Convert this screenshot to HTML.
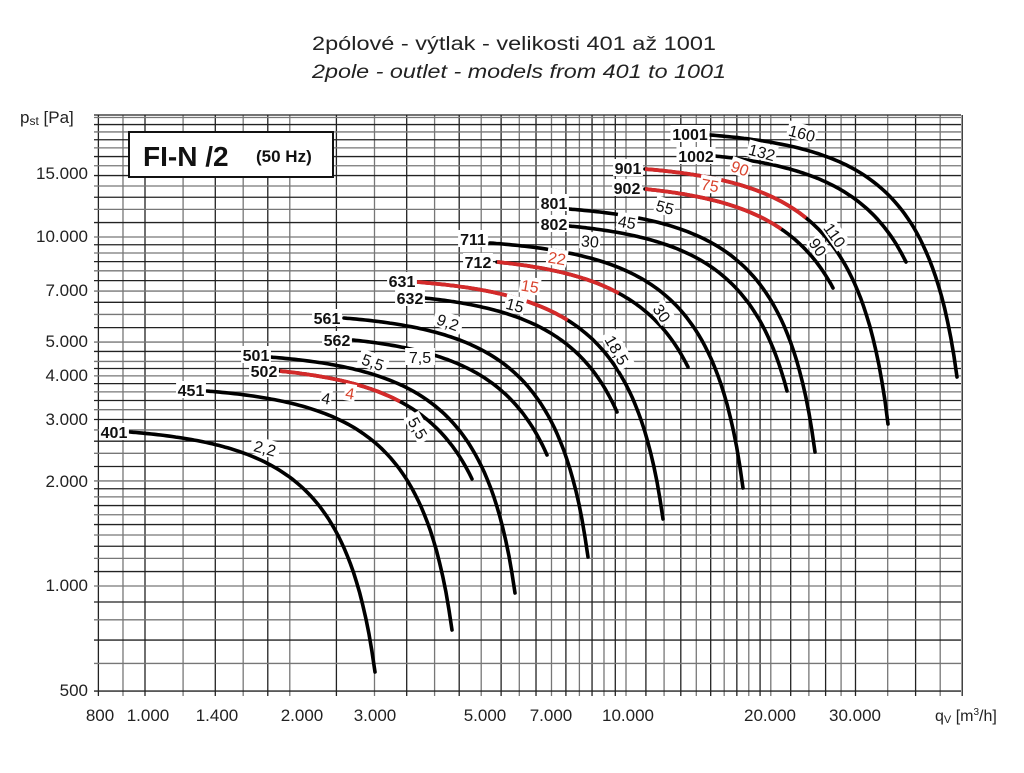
<!DOCTYPE html>
<html><head><meta charset="utf-8"><style>
html,body{margin:0;padding:0;background:#fff;}
body{width:1024px;height:768px;overflow:hidden;position:relative;font-family:"Liberation Sans",Arial,sans-serif;}
</style></head><body>
<svg id="s" width="1024" height="768" viewBox="0 0 1024 768" xmlns="http://www.w3.org/2000/svg" font-family="Liberation Sans, Arial, sans-serif">
<text x="312" y="50" font-size="19" textLength="404" lengthAdjust="spacingAndGlyphs" fill="#222">2pólové - výtlak - velikosti 401 až 1001</text>
<text x="312" y="78" font-size="19" textLength="414" lengthAdjust="spacingAndGlyphs" font-style="italic" fill="#222">2pole - outlet - models from 401 to 1001</text>
<text x="20" y="123" font-size="17" fill="#222">p<tspan font-size="12" dy="2">st</tspan><tspan dy="-2"> [Pa]</tspan></text>
<g id="grid"></g>
<g id="curves"></g>
<g id="labels"></g>
<rect x="129" y="132" width="204" height="45" fill="#fff" stroke="#111" stroke-width="2"/>
<text x="143" y="166" font-size="28" font-weight="bold" fill="#111">FI-N /2</text>
<text x="256" y="162" font-size="17" font-weight="bold" fill="#111">(50 Hz)</text>
<g font-size="17" fill="#222" text-anchor="end">
<text x="88" y="179">15.000</text><text x="88" y="242">10.000</text><text x="88" y="296">7.000</text>
<text x="88" y="347">5.000</text><text x="88" y="381">4.000</text><text x="88" y="425">3.000</text>
<text x="88" y="487">2.000</text><text x="88" y="591">1.000</text><text x="88" y="696">500</text>
</g>
<g font-size="17" fill="#222" text-anchor="middle">
<text x="100" y="721">800</text><text x="148" y="721">1.000</text><text x="217" y="721">1.400</text>
<text x="302" y="721">2.000</text><text x="375" y="721">3.000</text><text x="485" y="721">5.000</text>
<text x="551" y="721">7.000</text><text x="628" y="721">10.000</text><text x="770" y="721">20.000</text>
<text x="855" y="721">30.000</text>
</g>
<text x="935" y="721" font-size="16" fill="#222">q<tspan font-size="11" dy="2">V</tspan><tspan dy="-2"> [m</tspan><tspan font-size="10" dy="-6">3</tspan><tspan dy="6">/h]</tspan></text>
</svg>
<script>
var NS="http://www.w3.org/2000/svg";
function X(q){return 626+481*(Math.log10(q)-4);}
function Y(p){return 586-349*(Math.log10(p)-3);}
function Qx(x){return Math.pow(10,(x-626)/481+4);}
function Py(y){return Math.pow(10,3+(586-y)/349);}
function el(t,a,parent){var e=document.createElementNS(NS,t);for(var k in a)e.setAttribute(k,a[k]);(parent||document.getElementById('s')).appendChild(e);return e;}
var g=document.getElementById('grid');
var xs=[800,900,1000,1200,1400,1600,1800,2000];
for(var v=2500;v<=10000;v+=500)xs.push(v);
for(v=11000;v<=20000;v+=1000)xs.push(v);
for(v=22000;v<=30000;v+=2000)xs.push(v);
xs.push(35000,40000,45000,50000);
var TOP=115,BOT=691,L=99,R=961;
xs.forEach(function(q,i){var x=X(q);el('line',{x1:x,y1:TOP,x2:x,y2:BOT+5,stroke:i%2?'#777':'#222','stroke-width':1.3},g);});
var ys=[500,600,700,800,900];
for(v=1000;v<2000;v+=100)ys.push(v);
for(v=2000;v<4600;v+=200)ys.push(v);
ys.push(4700);
for(v=5000;v<10000;v+=500)ys.push(v);
for(v=10000;v<=22000;v+=1000)ys.push(v);
ys.forEach(function(p,i){var y=Y(p);if(y<TOP-1)return;el('line',{x1:L-5,y1:y,x2:R,y2:y,stroke:i%2?'#777':'#222','stroke-width':1.3},g);});
el('line',{x1:L-5,y1:TOP,x2:R,y2:TOP,stroke:'#222','stroke-width':1.3},g);
var C=[
[130,432,375,672,0],[207,391,452,630,0],[270,357,515,593,0],[280,371,472,479,400],
[344,318,588,557,0],[353,340,547,455,0],[417,282,663,519,568],[425,298,617,412,0],
[490,243,743,488,0],[497,262,688,367,620],[569,209,815,452,0],[569,226,787,391,0],
[645,169,888,424,808],[645,189,833,288,783],[710,135,957,377,0],[715,156,906,262,0]];
var cg=document.getElementById('curves');
C.forEach(function(c){
 var qs=Qx(c[0]),ps=Py(c[1]),qe=Qx(c[2]),pe=Py(c[3]),n=2.5;
 var k=(ps-pe)/(Math.pow(qe,n)-Math.pow(qs,n)),A=ps+k*Math.pow(qs,n);
 var pts=[];for(var i=0;i<=80;i++){var q=qs*Math.pow(qe/qs,i/80);var p=A-k*Math.pow(q,n);pts.push([X(q),Y(p)]);}
 var d='M'+pts.map(function(p){return p[0].toFixed(1)+','+p[1].toFixed(1)}).join(' L');
 el('path',{d:d,fill:'none',stroke:'#000','stroke-width':3.6,'stroke-linecap':'round'},cg);
 if(c[4]){var r=pts.filter(function(p){return p[0]<=c[4];});
  el('path',{d:'M'+r.map(function(p){return p[0].toFixed(1)+','+p[1].toFixed(1)}).join(' L'),fill:'none',stroke:'#d42a2a','stroke-width':3.8,'stroke-linecap':'butt'},cg);}
});
var lg=document.getElementById('labels');
function lab(t,x,y,rot,col,bold,fs){
 var gg=el('g',{transform:'translate('+x+','+y+') rotate('+rot+')'},lg);
 var w=t.length*(fs||15)*0.58+2;
 el('rect',{x:-w/2,y:-9,width:w,height:17,fill:'#fff'},gg);
 var tx=el('text',{x:0,y:6,'text-anchor':'middle','font-size':fs||15,fill:col||'#111','font-weight':bold?'bold':'normal'},gg);tx.textContent=t;
}
[['401',114,432],['451',191,390],['501',256,355],['502',264,371],['561',327,318],['562',337,340],
['631',402,281],['632',410,298],['711',473,239],['712',478,262],['801',554,203],['802',554,224],
['901',628,168],['902',627,188],['1001',690,134],['1002',696,156]].forEach(function(a){lab(a[0],a[1],a[2],0,'#111',true,16);});
[['2,2',265,448,15],['4',326,398,10],['5,5',373,362,20],['5,5',418,428,60],['7,5',420,357,0],['9,2',448,322,20],
['15',515,305,15],['18,5',617,350,60],['30',662,313,55],['30',590,241,5],['45',627,222,10],['55',665,207,15],
['110',835,235,55],['90',818,247,55],['132',762,152,15],['160',802,133,15]].forEach(function(a){lab(a[0],a[1],a[2],a[3],'#111',false,16);});
[['4',350,393,10],['15',530,286,10],['22',557,258,10],['75',710,185,10],['90',740,168,20]].forEach(function(a){lab(a[0],a[1],a[2],a[3],'#d9442e',false,16);});
</script>
</body></html>
